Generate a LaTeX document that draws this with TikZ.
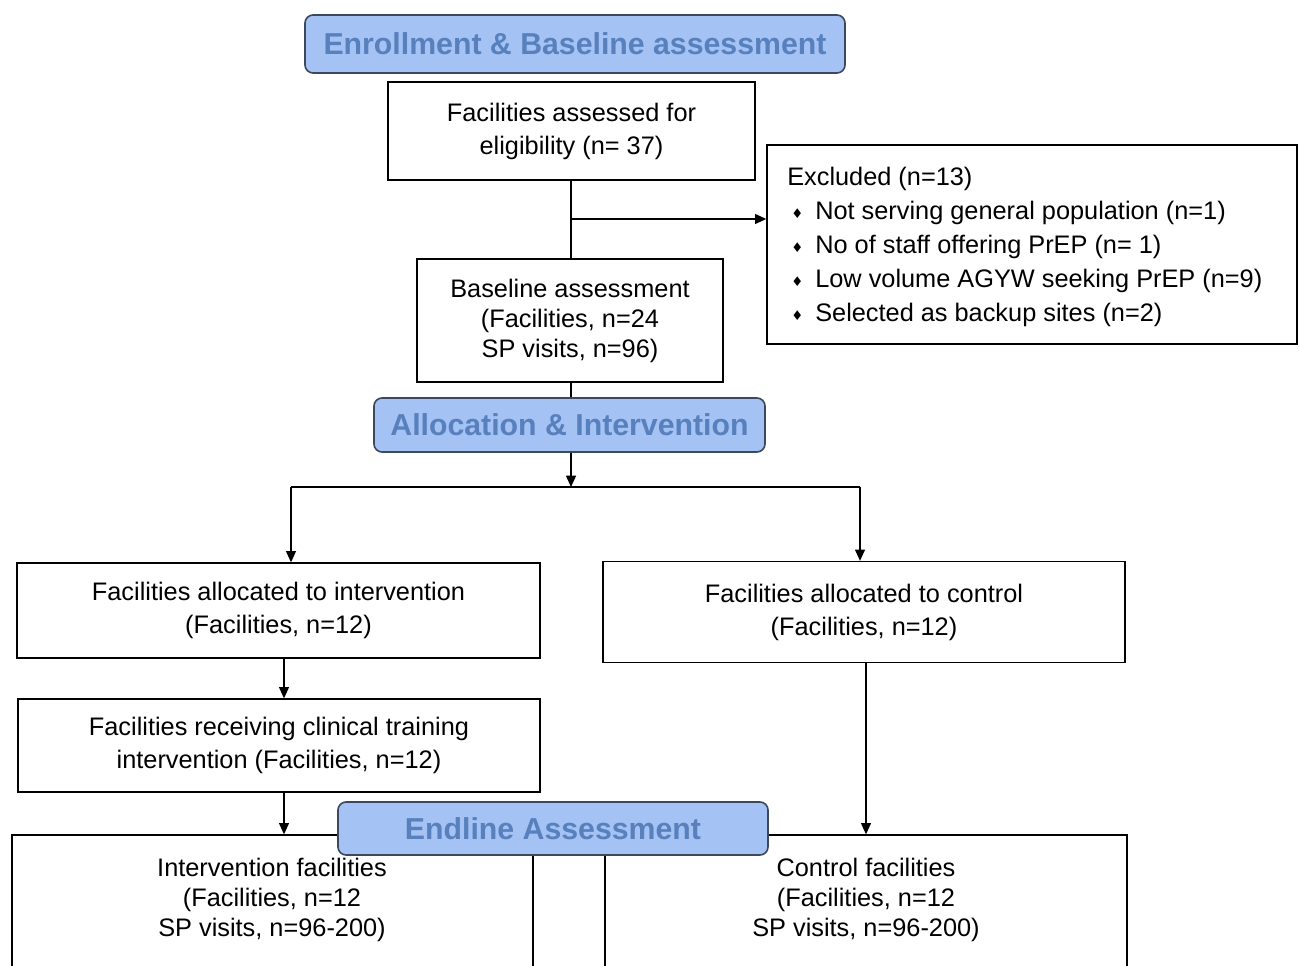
\documentclass[tikz,border=0pt]{standalone}
\usepackage{fontspec}
\setmainfont{Liberation Sans}
\newfontfamily\dejavu{DejaVu Sans}
\usetikzlibrary{arrows.meta}
\definecolor{hdrfill}{RGB}{164,194,244}
\definecolor{hdrtext}{RGB}{88,128,188}
\definecolor{hdrline}{RGB}{62,72,92}
\newcommand\itm{\makebox[21pt][l]{\hspace{3pt}\raisebox{1pt}{\dejavu\fontsize{10}{10}\selectfont ♦}}}
\begin{document}
\begin{tikzpicture}[x=0.75pt,y=-0.75pt,
  box/.style={draw=black, line width=1pt, inner sep=0pt},
  hdr/.style={draw=hdrline, fill=hdrfill, line width=1.2pt, rounded corners=6pt, inner sep=0pt,
              text=hdrtext, font=\fontsize{22.7}{26}\selectfont\bfseries},
  txt/.style={align=center, font=\fontsize{19}{24.75}\selectfont},
  txtb/.style={align=center, font=\fontsize{19}{22.5}\selectfont},
  sz/.style 2 args={minimum width=#1, minimum height=#2},
  arr/.style={line width=1pt, -{Triangle[length=8.5pt,width=7.5pt]}},
  ln/.style={line width=1pt}]
\useasboundingbox (0,0) rectangle (1299,966);
\clip (0,0) rectangle (1299,966);

% boxes
\node[hdr, sz={405pt}{43.5pt}] (h1) at (575,44) {Enrollment \& Baseline assessment};
\node[box, txt, sz={275.25pt}{73.5pt}] (elig) at (571.5,131) {Facilities assessed for\\eligibility (n= 37)};
\node[box, sz={397.5pt}{149.25pt}] (excl) at (1032,244.5) {};
\node[anchor=west, align=left, inner sep=0pt, font=\fontsize{19}{25.5}\selectfont] (excltxt) at (787,247)
  {Excluded (n=13)\\
   \itm Not serving general population (n=1)\\
   \itm No of staff offering PrEP (n= 1)\\
   \itm Low volume AGYW seeking PrEP (n=9)\\
   \itm Selected as backup sites (n=2)};
\node[box, txtb, sz={229.5pt}{92.25pt}] (base) at (570,320.5) {Baseline assessment\\(Facilities, n=24\\SP visits, n=96)};
\node[hdr, sz={293.25pt}{40.5pt}] (h2) at (569.5,425) {Allocation \& Intervention};
\node[box, txt, sz={392.25pt}{71.25pt}] (ialloc) at (278.5,610.5) {Facilities allocated to intervention\\(Facilities, n=12)};
\node[box, txt, sz={391.5pt}{75.75pt}] (calloc) at (864,612) {Facilities allocated to control\\(Facilities, n=12)};
\node[box, txt, sz={391.5pt}{69.75pt}] (clin) at (279,745.5) {Facilities receiving clinical training\\intervention (Facilities, n=12)};
\node[box, sz={390.75pt}{123.75pt}] (ifac) at (272.5,917.5) {};
\node[box, sz={391.5pt}{123.75pt}] (cfac) at (866,917.5) {};
\node[txtb] (ifactxt) at (272,900) {Intervention facilities\\(Facilities, n=12\\SP visits, n=96-200)};
\node[txtb] (cfactxt) at (866,900) {Control facilities\\(Facilities, n=12\\SP visits, n=96-200)};

% connectors
\coordinate (br) at (571,219);
\draw[ln] (elig.south -| br) -- (base.north -| br);
\draw[arr] (br) -- (excl.west |- br);
\draw[ln] (base.south -| br) -- (h2.north -| br);
\coordinate (sp) at (571,487);
\draw[arr] (h2.south -| sp) -- (sp);
\coordinate (spL) at (291,487);
\coordinate (spR) at (860,487);
\draw[ln] (spL) -- (spR);
\draw[arr] (spL) -- (spL |- ialloc.north);
\draw[arr] (spR) -- (spR |- calloc.north);
\coordinate (xL) at (284,0);
\coordinate (xR) at (866,0);
\draw[arr] (ialloc.south -| xL) -- (clin.north -| xL);
\draw[arr] (clin.south -| xL) -- (ifac.north -| xL);
\draw[arr] (calloc.south -| xR) -- (cfac.north -| xR);

\node[hdr, sz={322.5pt}{39.75pt}] (h3) at (553,828.5) {Endline Assessment};
\end{tikzpicture}
\end{document}
